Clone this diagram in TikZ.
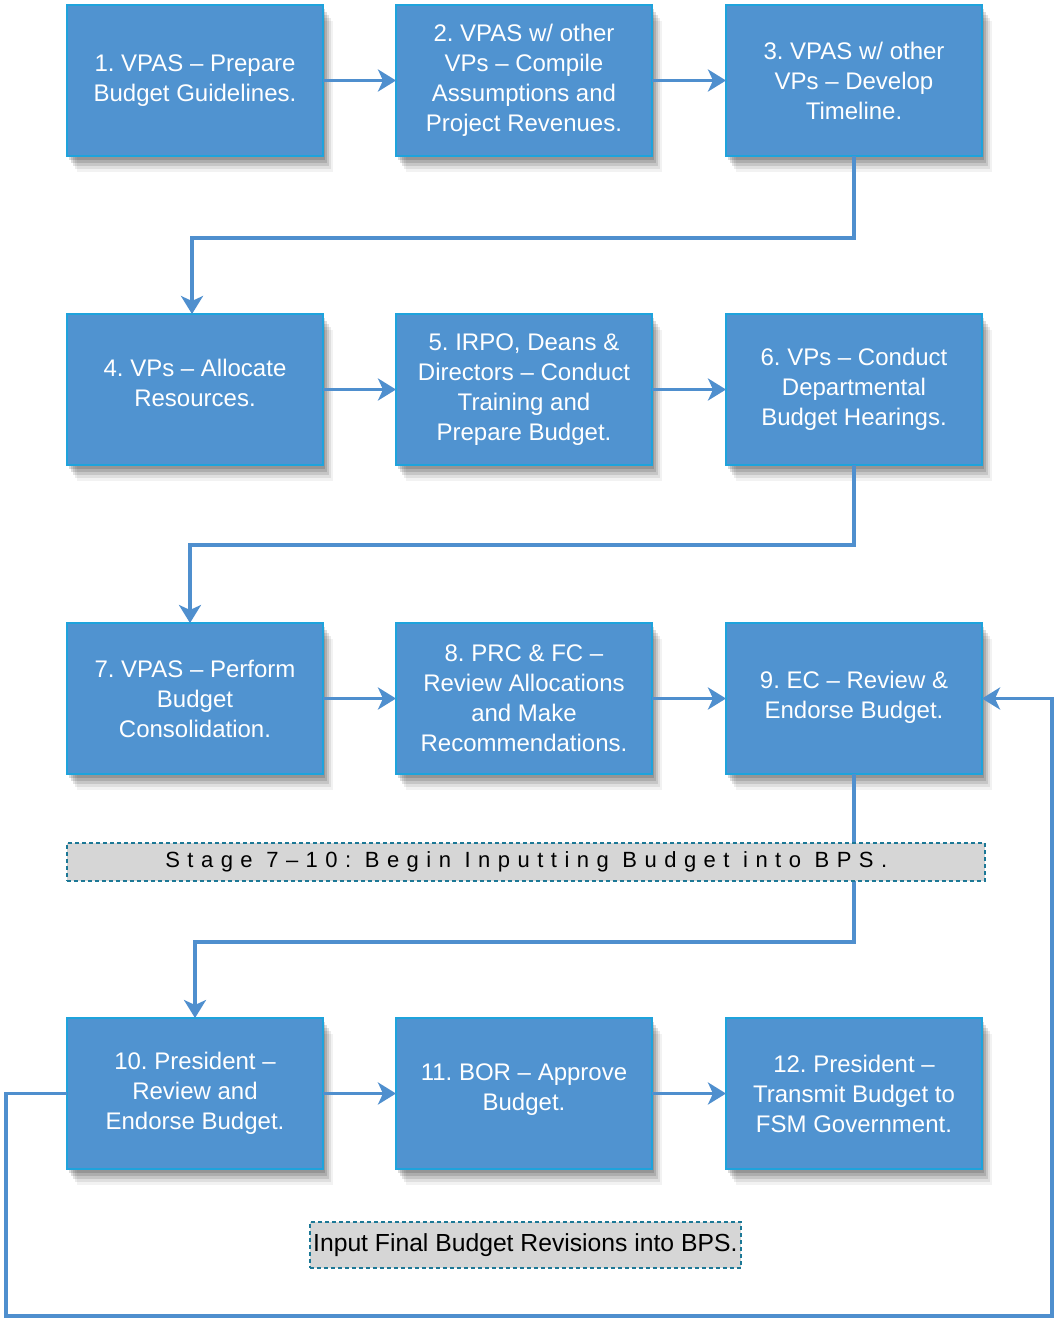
\documentclass[tikz,border=0pt]{standalone}
\usepackage{fontspec}
\setmainfont{Liberation Sans}
\usetikzlibrary{arrows.meta,shadows}
\definecolor{boxfill}{HTML}{5093D0}
\definecolor{boxedge}{HTML}{1EA3DC}
\definecolor{conncol}{HTML}{4F8FCE}
\definecolor{labfill}{HTML}{D6D6D6}
\definecolor{labedge}{HTML}{1C7896}
\frenchspacing
\tikzset{
  stepbox/.style={draw=boxedge, line width=1.8pt, fill=boxfill, text=white,
    minimum width=256pt, minimum height=151pt, inner sep=0pt, outer sep=0pt,
    align=center, font=\fontsize{24}{30}\selectfont, anchor=north west,
    drop shadow={shadow xshift=2pt, shadow yshift=-4pt, opacity=0.14, fill=black},
    drop shadow={shadow xshift=4pt, shadow yshift=-7pt, opacity=0.13, fill=black},
    drop shadow={shadow xshift=6pt, shadow yshift=-10pt, opacity=0.11, fill=black},
    drop shadow={shadow xshift=8pt, shadow yshift=-13pt, opacity=0.08, fill=black},
    drop shadow={shadow xshift=10pt, shadow yshift=-16pt, opacity=0.05, fill=black}},
  conn/.style={draw=conncol, line width=3.5pt,
    -{Stealth[length=18pt,width=22pt,inset=5pt]}},
  notebox/.style={draw=labedge, line width=1.6pt, dash pattern=on 4pt off 3pt,
    fill=labfill, text=black, inner sep=0pt, anchor=north west}
}
\begin{document}
\begin{tikzpicture}[x=1pt,y=-1pt]
\useasboundingbox (0,0) rectangle (1055,1318);
% row 1
\node[stepbox] (b1) at (67,5) {1. VPAS -- Prepare\\Budget Guidelines.};
\node[stepbox] (b2) at (396,5) {2. VPAS w/ other\\VPs -- Compile\\Assumptions and\\Project Revenues.};
\node[stepbox] (b3) at (726,5) {3. VPAS w/ other\\VPs -- Develop\\Timeline.};
% row 2
\node[stepbox] (b4) at (67,314) {4. VPs -- Allocate\\Resources.\\[-16pt]};
\node[stepbox] (b5) at (396,314) {5. IRPO, Deans \&\\Directors -- Conduct\\Training and\\Prepare Budget.};
\node[stepbox] (b6) at (726,314) {6. VPs -- Conduct\\Departmental\\Budget Hearings.};
% row 3
\node[stepbox] (b7) at (67,623) {7. VPAS -- Perform\\Budget\\Consolidation.};
\node[stepbox] (b8) at (396,623) {8. PRC \& FC --\\Review Allocations\\and Make\\Recommendations.};
\node[stepbox] (b9) at (726,623) {9. EC -- Review \&\\Endorse Budget.\\[-22pt]};
% row 4
\node[stepbox] (b10) at (67,1018) {10. President --\\Review and\\Endorse Budget.};
\node[stepbox] (b11) at (396,1018) {11. BOR -- Approve\\Budget.\\[-18pt]};
\node[stepbox] (b12) at (726,1018) {12. President --\\Transmit Budget to\\FSM Government.};

\coordinate (lb1) at (6,1316);
\coordinate (lb2) at (1052,1316);

% horizontal arrows
\draw[conn] (b1) -- (b2);
\draw[conn] (b2) -- (b3);
\draw[conn] (b4) -- (b5);
\draw[conn] (b5) -- (b6);
\draw[conn] (b7) -- (b8);
\draw[conn] (b8) -- (b9);
\draw[conn] (b10) -- (b11);
\draw[conn] (b11) -- (b12);
% row transitions
\draw[conn] (b3.south) -- (b3.south |- 0,238) -| ([xshift=-3pt]b4.north);
\draw[conn] (b6.south) -- (b6.south |- 0,545) -| ([xshift=-5pt]b7.north);
\draw[conn] (b9.south) -- (b9.south |- 0,942) -| (b10.north);
% loop back
\draw[conn] (b10.west) -| (lb1) -- (lb2) |- (b9.east);

% notes
\node[notebox, minimum width=918pt, minimum height=38pt,
  font=\fontsize{22}{24}\selectfont\addfontfeature{LetterSpace=34}] (stage) at (66,842)
  {\hspace*{1pt}Stage 7--10:\ Begin\ Inputting\ Budget\ into\ BPS.};
\node[notebox, minimum width=431pt, minimum height=46pt,
  font=\fontsize{24.7}{28}\selectfont] (final) at (309,1221)
  {Input Final Budget Revisions into BPS.};
\end{tikzpicture}
\end{document}
